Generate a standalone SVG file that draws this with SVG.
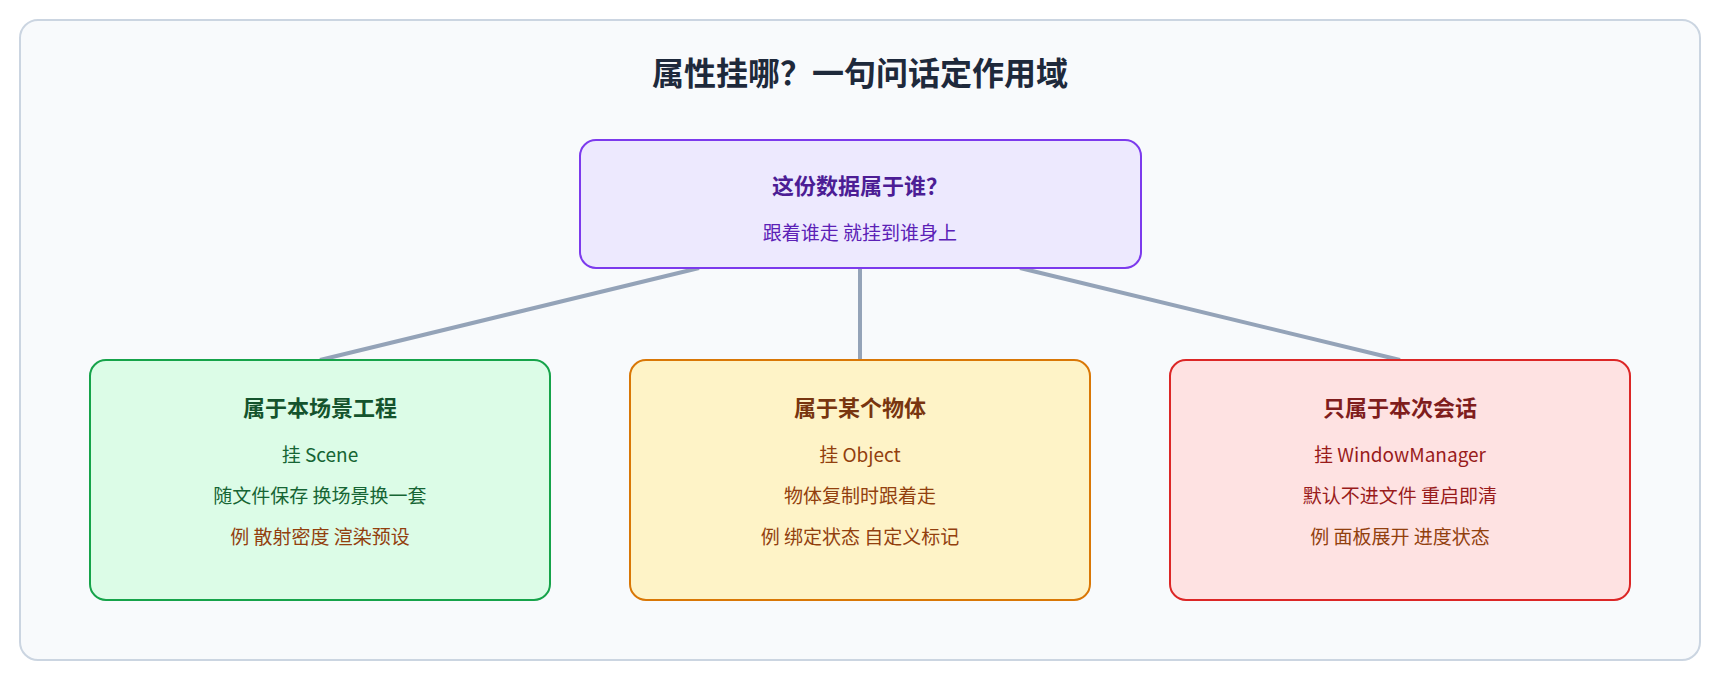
<svg xmlns="http://www.w3.org/2000/svg" width="1720" height="680" viewBox="0 0 1720 680">
<style>
text{font-family:"Noto Sans CJK SC","Noto Sans",sans-serif;text-anchor:middle}
.h{font-size:22px;font-weight:bold}
.b{font-size:19px}
.e{fill:#92400e}
</style>
<rect x="20" y="20" width="1680" height="640" rx="18" fill="#f8fafc" stroke="#cbd5e1" stroke-width="2"/>
<text x="860" y="85" font-size="32" font-weight="bold" fill="#1e293b">属性挂哪？一句问话定作用域</text>
<g id="connectors" stroke="#94a3b8" stroke-width="4" fill="none">
<line x1="699" y1="268" x2="320" y2="360"/>
<line x1="860" y1="268" x2="860" y2="360"/>
<line x1="1020" y1="268" x2="1400" y2="360"/>
</g>
<g id="root">
<rect x="580" y="140" width="561" height="128" rx="16" fill="#ede9fe" stroke="#7c3aed" stroke-width="2"/>
<text class="h" x="860" y="194" fill="#4c1d95">这份数据属于谁？</text>
<text class="b" x="860" y="240" fill="#5b21b6">跟着谁走 就挂到谁身上</text>
</g>
<g id="scene">
<rect x="90" y="360" width="460" height="240" rx="16" fill="#dcfce7" stroke="#16a34a" stroke-width="2"/>
<text class="h" x="320" y="416" fill="#14532d">属于本场景工程</text>
<text class="b" x="320" y="462" fill="#166534">挂 Scene</text>
<text class="b" x="320" y="503" fill="#166534">随文件保存 换场景换一套</text>
<text class="b e" x="320" y="544">例 散射密度 渲染预设</text>
</g>
<g id="object">
<rect x="630" y="360" width="460" height="240" rx="16" fill="#fef3c7" stroke="#d97706" stroke-width="2"/>
<text class="h" x="860" y="416" fill="#78350f">属于某个物体</text>
<text class="b" x="860" y="462" fill="#92400e">挂 Object</text>
<text class="b" x="860" y="503" fill="#92400e">物体复制时跟着走</text>
<text class="b e" x="860" y="544">例 绑定状态 自定义标记</text>
</g>
<g id="session">
<rect x="1170" y="360" width="460" height="240" rx="16" fill="#fee2e2" stroke="#dc2626" stroke-width="2"/>
<text class="h" x="1400" y="416" fill="#7f1d1d">只属于本次会话</text>
<text class="b" x="1400" y="462" fill="#991b1b">挂 WindowManager</text>
<text class="b" x="1400" y="503" fill="#991b1b">默认不进文件 重启即清</text>
<text class="b e" x="1400" y="544">例 面板展开 进度状态</text>
</g>
</svg>
